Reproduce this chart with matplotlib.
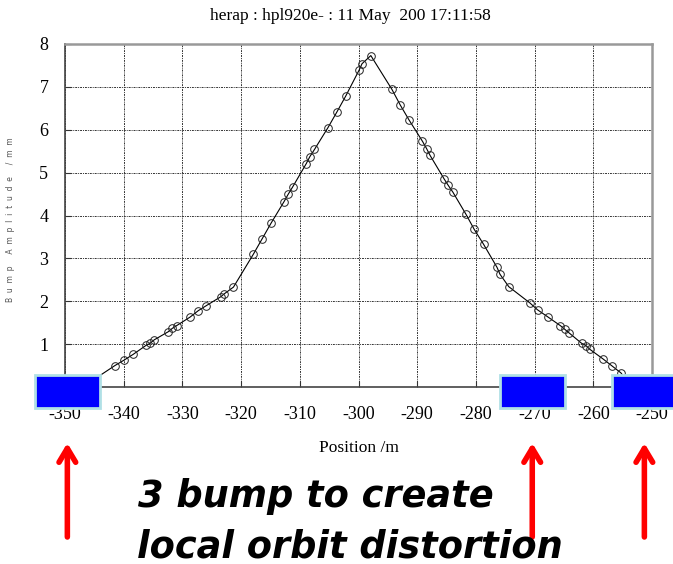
import matplotlib.pyplot as plt
import matplotlib.transforms as mtransforms
from matplotlib.patches import Rectangle

# Bump amplitude along the ring
position = [-347.0, -341.5, -339.9, -338.4, -336.2, -335.5, -334.8, -332.4, -331.7, -331.0,
            -328.7, -327.3, -325.9, -323.4, -322.9, -321.3, -317.9, -316.4, -314.9, -312.7,
            -312.0, -311.2, -308.9, -308.3, -307.5, -305.2, -303.7, -302.2, -299.9, -299.4,
            -297.9, -294.3, -292.9, -291.4, -289.1, -288.4, -287.8, -285.4, -284.7, -283.9,
            -281.7, -280.3, -278.7, -276.4, -275.9, -274.4, -270.8, -269.5, -267.8, -265.6,
            -264.9, -264.2, -262.0, -261.2, -260.6, -258.3, -256.8, -255.3, -253.5]
amplitude = [0.00, 0.50, 0.63, 0.76, 0.97, 1.02, 1.10, 1.29, 1.37, 1.43,
             1.63, 1.78, 1.90, 2.11, 2.17, 2.33, 3.10, 3.46, 3.82, 4.32,
             4.49, 4.67, 5.21, 5.37, 5.54, 6.05, 6.41, 6.78, 7.39, 7.54,
             7.73, 6.94, 6.58, 6.23, 5.73, 5.56, 5.40, 4.85, 4.70, 4.54,
             4.03, 3.68, 3.33, 2.79, 2.63, 2.34, 1.96, 1.80, 1.64, 1.43,
             1.35, 1.27, 1.02, 0.96, 0.88, 0.65, 0.49, 0.33, 0.00]

# corrector magnets used for the 3 bump
correctors = [-349.6, -270.4, -251.3]

x_ticks = list(range(-350, -249, 10))
y_ticks = list(range(1, 9))

W, H = 673, 564
fig = plt.figure(figsize=(W / 100, H / 100), dpi=100)
ax = fig.add_axes([65 / W, 1 - 387 / H, (652 - 65) / W, (387 - 44) / H])

serif = 'Liberation Serif'

ax.plot(position, amplitude, color='black', lw=0.8, marker='o', markersize=5.5,
        markerfacecolor='none', markeredgecolor='#222222', markeredgewidth=0.7)

ax.set_xlim(-350, -250)
ax.set_ylim(0, 8)
ax.set_xticks(x_ticks)
ax.set_yticks(y_ticks)
ax.set_xticklabels([str(t) for t in x_ticks], fontfamily=serif, fontsize=13)
ax.set_yticklabels([str(t) for t in y_ticks], fontfamily=serif, fontsize=13)
ax.tick_params(direction='in', length=4, width=0.8, color='#333333')
ax.tick_params(axis='x', pad=14)
ax.tick_params(axis='y', pad=12)
ax.grid(True, color='#333333', linestyle=(0, (2, 1, 1, 1)), linewidth=0.7)

for side in ['left', 'bottom']:
    ax.spines[side].set_color('#444444')
    ax.spines[side].set_linewidth(1.2)
for side in ['top', 'right']:
    ax.spines[side].set_color('#999999')
    ax.spines[side].set_linewidth(1.8)

ax.set_xlabel('Position /m', fontfamily=serif, fontsize=12.5, labelpad=12)
fig.text(11 / W, 1 - 220 / H, '  '.join('Bump Amplitude /mm'), fontfamily='DejaVu Sans',
         fontsize=5.5, color='#555555', rotation=90, ha='center', va='center')
fig.text(350 / W, 1 - 16 / H, 'herap : hpl920e- : 11 May  200 17:11:58',
         fontfamily=serif, fontsize=12.5, ha='center', va='center')

# corrector boxes and arrows: x in data, y in figure pixels
trans = mtransforms.blended_transform_factory(ax.transData, fig.dpi_scale_trans)
for c in correctors:
    box = Rectangle((c - 5.5, (H - 408) / 100), 11, 33 / 100, transform=trans,
                    facecolor='#0000FF', edgecolor='#B0E0E6', linewidth=2, clip_on=False)
    fig.add_artist(box)
    ax.annotate('', xy=(c, (H - 443) / 100), xycoords=trans,
                xytext=(c, (H - 537) / 100), textcoords=trans,
                arrowprops=dict(arrowstyle='->,head_length=1.0,head_width=0.6',
                                color='#FF0000', lw=4, capstyle='round',
                                joinstyle='round', shrinkA=0, shrinkB=0),
                annotation_clip=False)

fig.text(138 / W, 1 - 507 / H, '3 bump to create', fontsize=26.5, fontweight='bold',
         fontstyle='oblique', fontfamily='DejaVu Sans', va='baseline')
fig.text(137 / W, 1 - 557 / H, 'local orbit distortion', fontsize=26.5, fontweight='bold',
         fontstyle='oblique', fontfamily='DejaVu Sans', va='baseline')

fig.savefig('out.png', dpi=100)
